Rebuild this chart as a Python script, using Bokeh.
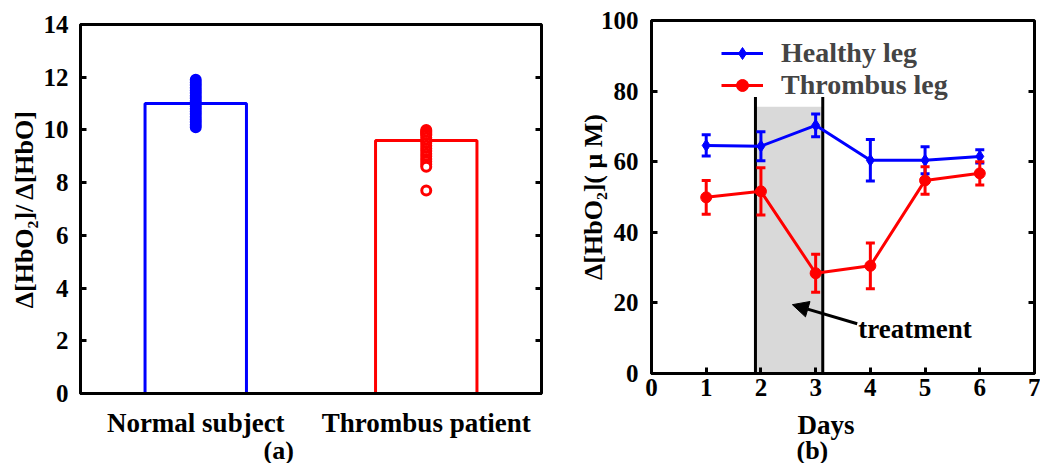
from bokeh.plotting import figure
from bokeh.models import (FactorRange, Range1d, LinearAxis, FixedTicker, Whisker, TeeHead,
                          ColumnDataSource, Label, Arrow, NormalHead, Legend, LegendItem, Title)
from bokeh.layouts import row
from bokeh.embed import file_html
from bokeh.resources import INLINE

FONT = "Liberation Serif"
BLUE = "#0000ff"
RED = "#ff0000"

# ---------------- panel (a) data ----------------
groups = ["Normal subject", "Thrombus patient"]
group_means = [11.0, 9.6]
group_colors = [BLUE, RED]
normal_values = [10.1, 10.2, 10.3, 10.4, 10.5, 10.6, 10.7, 10.8, 10.9, 11.0,
                 11.1, 11.2, 11.3, 11.4, 11.5, 11.6, 11.7, 11.8, 11.9]
thrombus_values = [10.0, 9.95, 9.9, 9.85, 9.8, 9.7, 9.6, 9.5, 9.4, 9.3, 9.2,
                   9.1, 9.0, 8.9, 8.8, 8.7, 8.6, 7.7]
y_ticks_a = [0, 2, 4, 6, 8, 10, 12, 14]

# ---------------- panel (b) data ----------------
days = [1, 2, 3, 4, 5, 6]
healthy_mean = [64.6, 64.4, 70.3, 60.4, 60.4, 61.5]
healthy_err = [3.0, 4.1, 3.2, 5.9, 3.8, 1.9]
thrombus_mean = [49.9, 51.6, 28.4, 30.5, 54.7, 56.7]
thrombus_err = [4.8, 6.7, 5.4, 6.5, 3.9, 3.3]
treatment_start = 1.9
treatment_end = 3.13
x_ticks_b = [0, 1, 2, 3, 4, 5, 6, 7]
y_ticks_b = [0, 20, 40, 60, 80, 100]


def style_axis(ax, size="25px"):
    ax.axis_line_width = 3
    ax.axis_line_color = "black"
    ax.major_tick_in = 6
    ax.major_tick_out = 0
    ax.minor_tick_in = 0
    ax.minor_tick_out = 0
    ax.major_tick_line_width = 3
    ax.major_tick_line_color = "black"
    ax.minor_tick_line_color = None
    ax.major_label_text_font = FONT
    ax.major_label_text_font_style = "bold"
    ax.major_label_text_font_size = size
    ax.major_label_text_color = "black"
    ax.axis_label_text_font = FONT
    ax.axis_label_text_font_style = "bold"
    ax.axis_label_text_font_size = "26px"
    ax.axis_label_text_color = "black"


def mirror_axis(ticker, **kw):
    ax = LinearAxis(ticker=ticker, **kw)
    ax.axis_line_color = None
    ax.major_tick_in = 6
    ax.major_tick_out = 0
    ax.minor_tick_in = 0
    ax.minor_tick_out = 0
    ax.major_tick_line_width = 3
    ax.major_tick_line_color = "black"
    ax.minor_tick_line_color = None
    ax.major_label_text_font_size = "0px"
    ax.major_label_standoff = 0
    return ax


def panel_title(text, offset, standoff, size="26px"):
    return Title(text=text, align="left", offset=offset, standoff=standoff,
                 vertical_align="top", text_font=FONT, text_font_style="bold",
                 text_font_size=size, text_color="black")


# ---------------- figure (a) ----------------
p1 = figure(width=555, height=463, x_range=FactorRange(*groups), y_range=Range1d(0, 14),
            output_backend="svg", toolbar_location=None, frame_align=False,
            min_border_left=80, min_border_right=14, min_border_top=24, min_border_bottom=70)
p1.xgrid.visible = False
p1.ygrid.visible = False
p1.outline_line_color = "black"
p1.outline_line_width = 3

src_a = ColumnDataSource(dict(x=groups, top=group_means, color=group_colors))
p1.vbar(x="x", top="top", width=0.44, source=src_a, fill_color=None,
        line_color="color", line_width=3)
p1.scatter(x=[groups[0]] * len(normal_values), y=normal_values, size=10,
           fill_color=BLUE, line_color=BLUE, line_width=2)
p1.scatter(x=[groups[1]] * len(thrombus_values), y=thrombus_values, size=9,
           fill_color="white", line_color=RED, line_width=3)

style_axis(p1.yaxis[0])
p1.yaxis[0].ticker = FixedTicker(ticks=y_ticks_a)
p1.yaxis[0].major_label_standoff = 12
p1.yaxis[0].axis_label = "Δ[HbO₂]/ Δ[HbO]"
p1.yaxis[0].axis_label_standoff = 2
style_axis(p1.xaxis[0], size="27px")
p1.xaxis[0].major_tick_line_color = None
p1.xaxis[0].major_label_standoff = 14
p1.add_layout(mirror_axis(FixedTicker(ticks=y_ticks_a)), "right")
p1.add_layout(panel_title("(a)", 183, -10), "below")

# ---------------- figure (b) ----------------
p2 = figure(width=485, height=463, x_range=Range1d(0, 7), y_range=Range1d(0, 100),
            output_backend="svg", toolbar_location=None, frame_align=False,
            min_border_left=96, min_border_right=6, min_border_top=20, min_border_bottom=90)
p2.xgrid.visible = False
p2.ygrid.visible = False
p2.outline_line_color = "black"
p2.outline_line_width = 3

p2.quad(left=[treatment_start], right=[treatment_end], bottom=[0], top=[75.6],
        fill_color="#d9d9d9", line_color=None)
p2.segment(x0=[treatment_start, treatment_end], y0=[0, 0],
           x1=[treatment_start, treatment_end], y1=[78.3, 78.3],
           line_color="black", line_width=3)

src_h = ColumnDataSource(dict(x=days, y=healthy_mean,
                              lo=[m - e for m, e in zip(healthy_mean, healthy_err)],
                              hi=[m + e for m, e in zip(healthy_mean, healthy_err)]))
src_t = ColumnDataSource(dict(x=days, y=thrombus_mean,
                              lo=[m - e for m, e in zip(thrombus_mean, thrombus_err)],
                              hi=[m + e for m, e in zip(thrombus_mean, thrombus_err)]))

hl = p2.line("x", "y", source=src_h, line_color=BLUE, line_width=3)
hs = p2.scatter("x", "y", source=src_h, marker="diamond", size=12,
                fill_color=BLUE, line_color=BLUE)
tl = p2.line("x", "y", source=src_t, line_color=RED, line_width=3)
ts = p2.scatter("x", "y", source=src_t, marker="circle", size=11,
                fill_color=RED, line_color=RED)

for src, col in ((src_h, BLUE), (src_t, RED)):
    p2.add_layout(Whisker(source=src, base="x", lower="lo", upper="hi", level="annotation",
                          line_color=col, line_width=3,
                          lower_head=TeeHead(size=9, line_color=col, line_width=3),
                          upper_head=TeeHead(size=9, line_color=col, line_width=3)))

style_axis(p2.yaxis[0])
p2.yaxis[0].ticker = FixedTicker(ticks=y_ticks_b)
p2.yaxis[0].major_label_standoff = 13
p2.yaxis[0].axis_label = "Δ[HbO₂]( μ M)"
p2.yaxis[0].axis_label_standoff = -10
style_axis(p2.xaxis[0])
p2.xaxis[0].ticker = FixedTicker(ticks=x_ticks_b)
p2.xaxis[0].major_label_standoff = 5
p2.add_layout(mirror_axis(FixedTicker(ticks=y_ticks_b), fixed_location=7), "right")
p2.add_layout(panel_title("Days", 146, 23, size="27px"), "below")
p2.add_layout(panel_title("(b)", 145, -35), "below")

legend = Legend(items=[LegendItem(label="Healthy leg", renderers=[hl, hs]),
                       LegendItem(label="Thrombus leg", renderers=[tl, ts])],
                location=(70, 272), label_text_font=FONT, label_text_font_style="bold",
                label_text_font_size="28px", glyph_width=42, glyph_height=30,
                label_height=30, label_standoff=18, padding=0, margin=0, spacing=0,
                border_line_color=None, background_fill_alpha=0)
p2.add_layout(legend)

p2.add_layout(Arrow(end=NormalHead(size=16, fill_color="black", line_color="black"),
                    x_start=3.76, y_start=14.1, x_end=2.575, y_end=19.5,
                    line_color="black", line_width=3))
p2.add_layout(Label(x=3.78, y=12.7, text="treatment", text_font=FONT,
                    text_font_style="bold", text_font_size="27px",
                    text_baseline="alphabetic", text_color="black"))

layout = row(p1, p2)
open("out.html", "w").write(file_html(layout, INLINE))
